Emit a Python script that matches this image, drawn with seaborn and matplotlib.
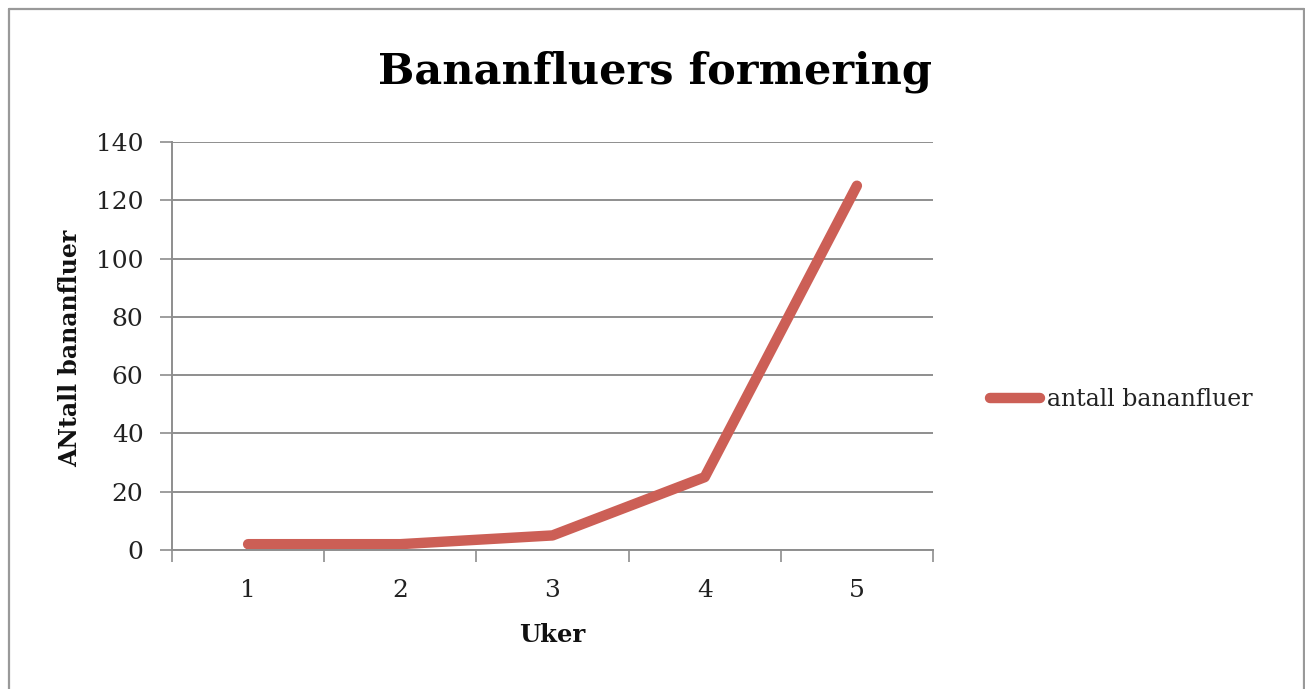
import matplotlib
matplotlib.use("Agg")
import matplotlib.pyplot as plt
from matplotlib.lines import Line2D
import seaborn as sns
import pandas as pd

# Weekly counts of fruit flies
weeks = [1, 2, 3, 4, 5]
counts = [2, 2, 5, 25, 125]
series_name = "antall bananfluer"
title = "Bananfluers formering"
x_label = "Uker"
y_label = "ANtall bananfluer"
y_ticks = [0, 20, 40, 60, 80, 100, 120, 140]

sns.set_theme(style="white")
plt.rcParams["font.family"] = ["DejaVu Serif"]

W, H = 1305, 689
fig = plt.figure(figsize=(W / 100, H / 100), dpi=100)
ax = fig.add_axes([172 / W, 1 - 550 / H, (933 - 172) / W, (550 - 142) / H])

line_col = "#CC5F56"
df = pd.DataFrame({"Uker": weeks, "Antall": counts, "Serie": series_name})
sns.lineplot(data=df, x="Uker", y="Antall", hue="Serie", palette=[line_col],
             linewidth=7.5, ax=ax, legend=False,
             solid_capstyle="round", solid_joinstyle="round")

grid_col = "#8E8E8E"
ax.set_xlim(0.5, 5.5)
ax.set_ylim(0, 140)
ax.set_yticks(y_ticks)
ax.set_yticklabels([str(v) for v in y_ticks], fontsize=18, color="#222222")
ax.yaxis.grid(True, color=grid_col, linewidth=1.4)
ax.set_axisbelow(True)

# category ticks sit between categories, labels centred on each category
ax.set_xticks([w + 0.5 for w in [0] + weeks])
ax.set_xticklabels([])
for w in weeks:
    ax.text(w, -0.1, str(w), transform=ax.get_xaxis_transform(),
            ha="center", va="center", fontsize=18, color="#222222")

for side in ("top", "right"):
    ax.spines[side].set_visible(False)
for side in ("left", "bottom"):
    ax.spines[side].set_color(grid_col)
    ax.spines[side].set_linewidth(1.4)
ax.tick_params(axis="both", which="both", direction="out", length=8.5,
               width=1.2, color=grid_col, left=True, bottom=True)
ax.tick_params(axis="y", pad=12)

ax.set_xlabel("")
ax.set_ylabel("")
fig.text(552 / W, 1 - 635 / H, x_label, ha="center", va="center",
         fontsize=17.5, fontweight="bold", color="#111111")
fig.text(70 / W, 1 - 348 / H, y_label, ha="center", va="center",
         rotation=90, fontsize=17, fontweight="bold", color="#111111")
fig.text(655 / W, 1 - 72 / H, title, ha="center", va="center",
         fontsize=31, fontweight="bold", color="#000000")

# legend
handle = Line2D([0], [0], color=line_col, linewidth=7.5, solid_capstyle="round")
leg = fig.legend([handle], [series_name], loc="center left",
                 bbox_to_anchor=(990 / W, 1 - 400 / H), frameon=False,
                 fontsize=17, handlelength=2.1, handletextpad=0.3,
                 borderaxespad=0, borderpad=0)
for t in leg.get_texts():
    t.set_color("#222222")

# outer frame of the chart area
frame_col = "#999999"
fig.add_artist(Line2D([8.5 / W, 8.5 / W], [0, 1 - 8.5 / H], color=frame_col, lw=1.6,
                      transform=fig.transFigure))
fig.add_artist(Line2D([8.5 / W, 1304 / W], [1 - 8.5 / H, 1 - 8.5 / H], color=frame_col,
                      lw=1.6, transform=fig.transFigure))
fig.add_artist(Line2D([1304 / W, 1304 / W], [0, 1 - 8.5 / H], color=frame_col, lw=1.6,
                      transform=fig.transFigure))

fig.savefig("out.png", dpi=100, facecolor="white")
